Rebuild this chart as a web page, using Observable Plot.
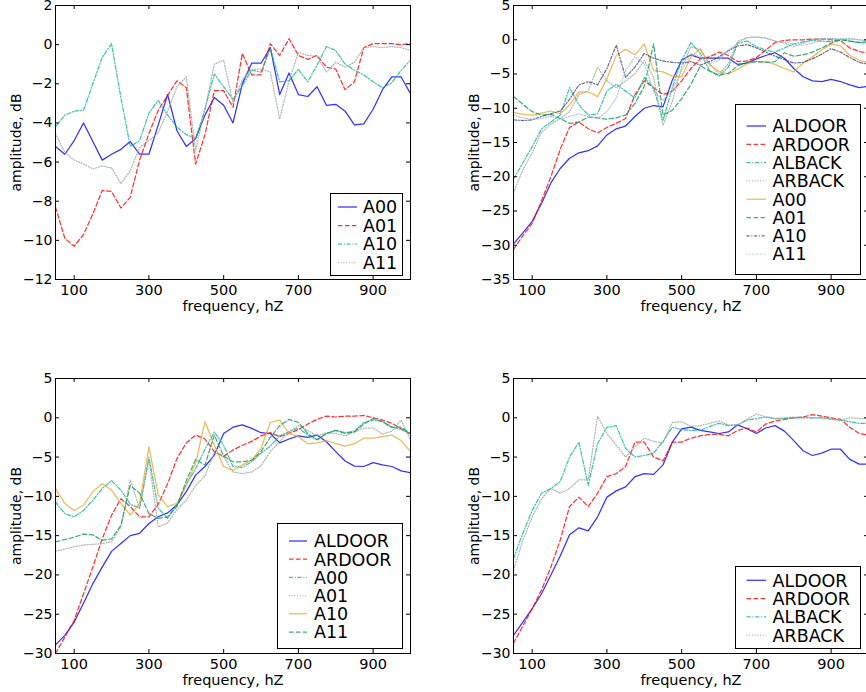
<!DOCTYPE html>
<html><head><meta charset="utf-8">
<script src="https://cdn.jsdelivr.net/npm/d3@7"></script>
<script src="https://cdn.jsdelivr.net/npm/@observablehq/plot@0.6"></script>
<style>
html,body{margin:0;padding:0;overflow:hidden;background:#fff;}
#root{position:relative;width:866px;height:692px;overflow:hidden;background:#fff;font-family:"DejaVu Sans",sans-serif;}
.panel{position:absolute;width:440px;}
.panel svg{max-width:none !important;}
.legend{position:absolute;}
</style></head>
<body><div id="root"></div>
<script>
// ---------- data ----------
const freq = [50,75,100,125,150,175,200,225,250,275,300,325,350,375,400,425,450,475,500,525,550,575,600,625,650,675,700,725,750,775,800,825,850,875,900,925,950,975,1000];
const xTicks = [100,300,500,700,900];

// top-left panel
const tlLabels = ["A00","A01","A10","A11"];
const tlA00 = [-5.2,-5.6,-4.9,-4.0,-4.95,-5.9,-5.6,-5.35,-4.95,-5.6,-5.6,-4.1,-2.55,-4.4,-5.2,-4.8,-3.6,-2.7,-3.1,-4.0,-2.0,-0.95,-0.95,-0.15,-2.55,-1.45,-2.55,-2.65,-2.15,-3.1,-3.05,-3.4,-4.1,-4.05,-3.3,-2.3,-1.65,-1.65,-2.5];
const tlA01 = [-8.3,-9.9,-10.3,-9.7,-8.65,-7.45,-7.5,-8.35,-7.8,-5.9,-4.55,-3.35,-2.6,-1.85,-2.2,-6.1,-4.6,-2.35,-2.35,-3.2,-0.45,-1.55,-1.55,0.05,-0.55,0.3,-0.55,-0.75,-0.55,-1.15,-1.25,-2.3,-1.9,-0.15,0.05,0.05,0.05,0.0,0.05];
const tlA10 = [-4.2,-3.6,-3.4,-3.35,-2.0,-0.65,0.05,-2.7,-5.2,-4.9,-3.5,-2.85,-3.6,-4.2,-4.6,-4.8,-3.3,-1.5,-2.15,-2.8,-2.1,-1.3,-1.4,-0.2,-1.9,-1.85,-1.25,-1.9,-1.05,-0.1,-0.3,-1.0,-1.3,-1.55,-1.9,-2.2,-1.95,-1.3,-0.8];
const tlA11 = [-4.55,-5.5,-5.9,-6.1,-6.35,-6.2,-6.3,-7.1,-6.45,-5.25,-4.9,-4.5,-3.4,-2.15,-1.65,-5.4,-3.3,-1.0,-0.8,-3.0,-1.8,-1.25,-1.25,-1.4,-3.8,-1.85,-0.4,-0.55,-0.6,-1.4,-0.9,-1.15,-0.9,-0.15,-0.1,-0.15,-0.1,-0.15,-0.3];
const tlYTicks = [-12,-10,-8,-6,-4,-2,0,2];

// top-right panel
const trLabels = ["ALDOOR","ARDOOR","ALBACK","ARBACK","A00","A01","A10","A11"];
const trALDOOR = [-29.8,-28.2,-26.5,-23.9,-20.9,-18.8,-17.3,-16.5,-16.2,-15.5,-13.9,-13.0,-12.6,-11.2,-10.0,-9.6,-9.8,-5.9,-3.0,-2.2,-2.7,-2.7,-2.7,-2.7,-3.6,-3.4,-2.8,-2.3,-1.9,-2.7,-4.2,-5.4,-6.0,-6.1,-5.8,-6.1,-6.6,-7.0,-6.8];
const trARDOOR = [-30.6,-28.6,-26.8,-23.5,-20.0,-16.0,-12.8,-12.0,-13.0,-13.6,-12.8,-12.2,-11.5,-8.0,-6.0,-7.0,-8.0,-7.5,-6.0,-4.2,-2.8,-2.5,-1.8,-2.3,-3.2,-3.1,-2.6,-1.5,-0.4,-0.1,0.0,0.0,0.1,0.1,0.0,-0.1,-1.2,-1.7,-2.0];
const trALBACK = [-20.3,-18.0,-15.6,-13.0,-12.0,-11.0,-7.0,-9.5,-11.0,-10.8,-7.5,-6.5,-7.5,-8.5,-5.5,-7.0,-11.8,-7.0,-3.0,-0.4,-2.0,-4.5,-5.3,-4.0,-0.5,-0.2,-1.0,-1.5,-1.8,-1.2,-0.6,-0.3,-0.1,-0.2,-0.3,0.1,-0.2,-0.4,-0.5];
const trARBACK = [-22.3,-19.0,-16.5,-13.5,-12.3,-11.5,-10.5,-8.0,-7.5,-4.0,-6.0,-7.0,-6.0,-5.0,-3.0,-5.5,-12.5,-9.0,-4.0,-1.0,-1.5,-3.5,-5.0,-3.5,-0.2,0.3,0.4,0.2,-0.2,-0.5,-1.0,-0.5,0.0,0.2,0.2,0.0,0.1,0.0,-0.2];
const trA00 = [-10.6,-10.9,-11.0,-10.7,-10.4,-10.8,-9.5,-7.6,-7.6,-8.3,-5.7,-2.3,-1.4,-2.2,-0.6,-4.5,-4.7,-5.3,-5.4,-2.5,-1.3,-3.7,-4.6,-5.0,-4.3,-3.5,-3.2,-3.2,-3.6,-4.2,-4.7,-3.4,-2.5,-1.5,-0.6,-0.9,-2.3,-3.0,-3.3];
const trA01 = [-8.3,-9.4,-10.5,-11.0,-10.9,-11.5,-12.2,-12.0,-11.3,-11.4,-11.6,-11.4,-11.0,-9.3,-6.8,-0.6,-11.0,-10.3,-8.6,-6.5,-3.8,-4.6,-5.2,-4.9,-3.8,-3.3,-3.2,-3.3,-3.2,-1.9,-2.4,-2.2,-1.8,-1.2,-0.5,0.0,-0.2,-0.4,-0.3];
const trA10 = [-11.7,-11.8,-11.7,-11.2,-10.8,-10.4,-8.7,-6.6,-6.1,-6.6,-4.2,-0.8,-5.5,-4.0,-2.0,-2.7,-3.1,-3.3,-3.4,-3.2,-3.7,-3.2,-2.5,-1.6,-0.9,-0.7,-1.2,-1.8,-2.4,-2.9,-3.4,-3.3,-2.8,-2.1,-1.3,-1.8,-2.6,-3.3,-3.6];
const trA11 = [-11.0,-11.4,-11.6,-11.5,-11.2,-11.6,-11.2,-10.8,-11.2,-11.5,-10.5,-8.5,-4.5,-2.5,-3.5,-7.5,-8.8,-7.5,-4.5,-2.0,-2.5,-3.5,-3.0,-1.5,-0.5,0.3,0.4,0.3,-0.2,-0.3,-0.6,-0.8,-0.5,0.0,0.2,0.1,0.2,0.0,-0.2];
const trYTicks = [-35,-30,-25,-20,-15,-10,-5,0,5];

// bottom-left panel
const blLabels = ["ALDOOR","ARDOOR","A00","A01","A10","A11"];
const blALDOOR = [-28.9,-27.7,-26.0,-23.6,-21.1,-19.0,-17.0,-16.0,-15.0,-14.7,-13.45,-12.6,-12.1,-11.1,-9.4,-7.3,-6.2,-4.75,-2.0,-1.2,-0.9,-1.35,-1.9,-2.0,-3.2,-2.7,-2.3,-2.5,-2.2,-3.05,-4.3,-5.5,-6.15,-6.2,-5.7,-6.0,-6.2,-6.75,-7.0];
const blARDOOR = [-30.0,-27.9,-25.8,-22.4,-19.0,-15.4,-12.4,-10.3,-11.3,-12.6,-12.6,-11.0,-8.4,-5.2,-3.2,-2.2,-2.7,-4.3,-4.9,-4.1,-3.5,-3.0,-2.3,-1.9,-2.4,-2.0,-1.5,-0.8,-0.2,0.2,0.1,0.2,0.2,0.3,0.0,-0.3,-0.7,-1.4,-2.1];
const blA00 = [-10.7,-12.2,-12.6,-11.8,-10.5,-9.0,-8.0,-9.2,-11.0,-11.5,-5.0,-11.5,-12.8,-11.0,-8.5,-6.5,-4.0,-1.8,-3.5,-6.2,-6.3,-5.6,-4.5,-3.6,-2.3,-1.8,-1.3,-2.2,-2.8,-2.0,-1.6,-1.9,-1.7,-0.6,-0.3,-0.5,-1.2,-1.5,-2.0];
const blA01 = [-17.0,-16.7,-16.4,-16.2,-16.1,-16.0,-15.8,-13.9,-7.9,-11.5,-5.4,-13.9,-13.4,-11.7,-10.5,-8.6,-7.4,-4.4,-5.0,-6.9,-7.1,-6.9,-6.1,-4.3,-3.0,-1.8,-1.0,-1.6,-2.3,-1.9,-2.0,-2.3,-1.8,-1.3,-1.3,-2.1,-1.7,-0.3,-2.8];
const blA10 = [-9.0,-10.9,-11.8,-11.1,-9.4,-8.4,-9.2,-10.9,-12.4,-10.9,-3.7,-9.8,-11.3,-10.9,-8.6,-5.8,-0.5,-3.5,-6.2,-6.7,-6.0,-5.4,-3.9,-0.6,-0.3,-2.0,-2.4,-3.3,-3.2,-2.9,-3.3,-3.6,-3.3,-2.6,-2.6,-2.4,-2.2,-2.9,-4.3];
const blA11 = [-15.8,-15.5,-15.2,-14.8,-14.9,-15.6,-15.4,-13.7,-8.6,-9.6,-12.2,-12.8,-12.6,-11.3,-8.0,-5.3,-6.0,-2.2,-4.9,-5.6,-5.6,-5.4,-4.3,-2.5,-1.0,-0.2,-0.6,-2.0,-2.8,-2.0,-1.6,-2.0,-1.8,-0.8,-0.1,-0.5,-1.2,-1.2,-2.0];
const bYTicks = [-30,-25,-20,-15,-10,-5,0,5];

// bottom-right panel
const brLabels = ["ALDOOR","ARDOOR","ALBACK","ARBACK"];
const brALDOOR = [-27.7,-26.0,-24.3,-22.4,-20.0,-17.6,-14.9,-14.0,-14.4,-12.6,-10.1,-9.3,-8.8,-7.5,-7.1,-7.2,-6.0,-3.1,-1.4,-1.2,-1.6,-1.8,-2.0,-1.8,-0.9,-1.4,-2.0,-1.3,-1.0,-1.7,-2.9,-4.2,-4.8,-4.5,-4.0,-4.0,-5.3,-5.9,-5.9];
const brARDOOR = [-28.7,-26.5,-24.3,-21.9,-19.0,-15.6,-11.3,-10.1,-11.3,-9.6,-7.5,-7.1,-6.2,-3.1,-3.1,-5.0,-5.5,-3.1,-3.1,-2.6,-2.3,-2.1,-2.1,-2.3,-1.6,-1.3,-1.8,-0.8,-0.4,-0.2,0.0,0.1,0.4,0.2,0.0,-0.2,-1.2,-2.0,-2.2];
const brALBACK = [-17.9,-14.7,-11.8,-9.6,-9.0,-8.1,-5.0,-3.1,-8.6,-3.3,-1.2,-1.0,-3.9,-5.0,-4.8,-4.5,-3.0,-1.2,-1.5,-1.6,-1.6,-1.1,-0.7,-1.0,-0.9,-0.3,-0.1,0.1,-0.1,-0.1,0.0,0.0,0.0,0.0,-0.2,-0.3,-0.5,-0.7,-0.7];
const brARBACK = [-19.4,-15.6,-12.6,-10.3,-9.0,-9.6,-9.0,-7.9,-7.9,0.2,-2.0,-3.5,-5.0,-3.7,-2.6,-3.0,-3.2,-0.6,-0.5,-1.1,-1.0,-0.7,-0.4,-0.9,-0.9,-0.2,0.5,0.1,-0.1,0.0,0.1,0.1,0.0,0.0,-0.1,-0.3,0.0,-0.1,-0.1];

// ---------- styles (matplotlib-like cycle) ----------
const cycle = [
  {color:"#0000ff", dash:null},
  {color:"#ff0000", dash:"4.5,2.5"},
  {color:"#12b396", dash:"4,1.8,1,1.8"},
  {color:"#9aa59a", dash:"1,1.7"},
  {color:"#e8a830", dash:null},
  {color:"#12995a", dash:"4.5,2.5"},
  {color:"#45457a", dash:"3,1.8,1,1.8"},
  {color:"#9dbbd2", dash:"1,1.7"}
];
const OP = 0.8, SW = 1.25;
const FONT = "DejaVu Sans";
const minus = d => d < 0 ? "\u2212" + Math.abs(d) : String(d);

function panel({left, top, H, yDomain, yTicks, series, labels, legend}) {
  const W = 355, ml = 55, mt = 5, mr = 22, mb = 40;
  const marks = [];
  series.forEach((arr, i) => {
    const st = cycle[i];
    const data = freq.map((f, j) => ({f, v: arr[j]}));
    marks.push(Plot.line(data, {x: "f", y: "v", stroke: st.color, strokeWidth: SW, strokeOpacity: OP,
      strokeDasharray: st.dash, clip: true}));
  });
  marks.push(Plot.frame({stroke: "#000", strokeWidth: 1}));
  marks.push(Plot.tickX(xTicks, {x: d => d, insetBottom: H - 4, stroke: "#000"}));
  marks.push(Plot.tickX(xTicks, {x: d => d, insetTop: H - 4, stroke: "#000"}));
  marks.push(Plot.tickY(yTicks, {y: d => d, insetRight: W - 4, stroke: "#000"}));
  marks.push(Plot.tickY(yTicks, {y: d => d, insetLeft: W - 4, stroke: "#000"}));
  marks.push(Plot.axisX(xTicks, {tickSize: 0, tickPadding: 5, fontSize: 14.5, label: "frequency, hZ",
    labelAnchor: "center", labelArrow: "none", labelOffset: 31}));
  marks.push(Plot.axisY(yTicks, {tickSize: 0, tickPadding: 3, fontSize: 14, tickFormat: minus,
    label: "amplitude, dB", labelAnchor: "center", labelArrow: "none", labelOffset: 44}));
  const svg = Plot.plot({
    width: ml + W + mr, height: mt + H + mb,
    marginLeft: ml, marginTop: mt, marginRight: mr, marginBottom: mb,
    x: {domain: [50, 1000]},
    y: {domain: yDomain},
    style: {fontFamily: FONT, fontSize: "14.5px", color: "#000", background: "transparent", overflow: "visible", maxWidth: "none"},
    marks
  });
  svg.style.maxWidth = "none";
  const wrap = document.createElement("div");
  wrap.className = "panel";
  wrap.style.left = left + "px";
  wrap.style.top = top + "px";
  wrap.appendChild(svg);
  document.getElementById("root").appendChild(wrap);

  // legend box
  const NS = "http://www.w3.org/2000/svg";
  const lg = document.createElementNS(NS, "svg");
  lg.setAttribute("class", "legend");
  lg.setAttribute("width", legend.w + 2);
  lg.setAttribute("height", legend.h + 2);
  lg.style.left = (legend.x - 1) + "px";
  lg.style.top = (legend.y - 1) + "px";
  const rect = document.createElementNS(NS, "rect");
  rect.setAttribute("x", 1.5); rect.setAttribute("y", 1.5);
  rect.setAttribute("width", legend.w - 1); rect.setAttribute("height", legend.h - 1);
  rect.setAttribute("fill", "#fff"); rect.setAttribute("stroke", "#000"); rect.setAttribute("stroke-width", 1);
  lg.appendChild(rect);
  labels.forEach((lab, i) => {
    const st = cycle[i];
    const cy = 1 + legend.first + i * legend.step;
    const ln = document.createElementNS(NS, "line");
    ln.setAttribute("x1", 1 + legend.l0); ln.setAttribute("x2", 1 + legend.l1);
    ln.setAttribute("y1", cy); ln.setAttribute("y2", cy);
    ln.setAttribute("stroke", st.color); ln.setAttribute("stroke-width", SW);
    ln.setAttribute("stroke-opacity", OP);
    if (st.dash) ln.setAttribute("stroke-dasharray", st.dash);
    lg.appendChild(ln);
    const tx = document.createElementNS(NS, "text");
    tx.setAttribute("x", 1 + legend.tx); tx.setAttribute("y", cy);
    tx.setAttribute("dy", "0.36em");
    tx.setAttribute("font-family", FONT); tx.setAttribute("font-size", "17.5px");
    tx.setAttribute("fill", "#000");
    tx.textContent = lab;
    lg.appendChild(tx);
  });
  document.getElementById("root").appendChild(lg);
}

panel({left: 0, top: 0, H: 274, yDomain: [-12, 2], yTicks: tlYTicks,
  series: [tlA00, tlA01, tlA10, tlA11], labels: tlLabels,
  legend: {x: 330, y: 193, w: 73, h: 83, first: 14, step: 18.5, l0: 8, l1: 27, tx: 33}});
panel({left: 458, top: 0, H: 274, yDomain: [-35, 5], yTicks: trYTicks,
  series: [trALDOOR, trARDOOR, trALBACK, trARBACK, trA00, trA01, trA10, trA11], labels: trLabels,
  legend: {x: 735, y: 104, w: 126, h: 171, first: 22, step: 18.3, l0: 11.5, l1: 31, tx: 37.5}});
panel({left: 0, top: 373, H: 275, yDomain: [-30, 5], yTicks: bYTicks,
  series: [blALDOOR, blARDOOR, blA00, blA01, blA10, blA11], labels: blLabels,
  legend: {x: 277, y: 523, w: 126, h: 126, first: 18, step: 18.2, l0: 12, l1: 30, tx: 37}});
panel({left: 458, top: 373, H: 275, yDomain: [-30, 5], yTicks: bYTicks,
  series: [brALDOOR, brARDOOR, brALBACK, brARBACK], labels: brLabels,
  legend: {x: 735, y: 566, w: 126, h: 83, first: 14.3, step: 18.3, l0: 11.5, l1: 31, tx: 37.5}});
</script>
</body></html>
